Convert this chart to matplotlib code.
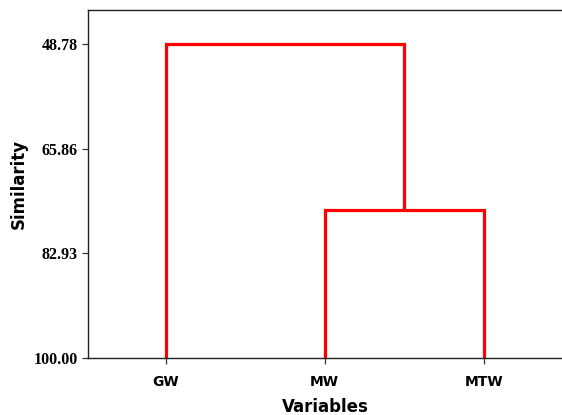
import matplotlib
matplotlib.use("Agg")
import matplotlib.pyplot as plt

variables = ["GW", "MW", "MTW"]
ytick_values = [48.78, 65.86, 82.93, 100.00]
merge_mw_mtw = 75.9
merge_all = 48.78
base = 100.0

fig = plt.figure(figsize=(5.62, 4.15), dpi=100)
W, H = 562, 415
ax = fig.add_axes([88 / W, 1 - 358 / H, (563 - 88) / W, (358 - 10.3) / H])

xs = [1, 2, 3]
red = dict(color="#ff0000", lw=2.3, solid_capstyle="butt", solid_joinstyle="miter")
# MW - MTW cluster
ax.plot([xs[1], xs[1], xs[2], xs[2]], [base, merge_mw_mtw, merge_mw_mtw, base], **red)
mid = (xs[1] + xs[2]) / 2
# GW - cluster
ax.plot([xs[0], xs[0], mid, mid], [base, merge_all, merge_all, merge_mw_mtw], **red)

ax.set_xlim(0.51, 3.5)
ax.set_ylim(base, 43.23)
ax.set_yticks(ytick_values)
ax.set_yticklabels([f"{v:.2f}" for v in ytick_values],
                   fontfamily="Liberation Serif", fontweight="bold", fontsize=11.5)
ax.set_xticks(xs)
ax.set_xticklabels(variables, fontfamily="DejaVu Sans", fontweight="bold", fontsize=10)
ax.tick_params(axis="both", length=4, width=0.9, color="#333333")
ax.tick_params(axis="x", pad=8)
for s in ax.spines.values():
    s.set_linewidth(1.0)
    s.set_color("#222222")

ax.set_ylabel("Similarity", fontfamily="DejaVu Sans", fontweight="bold", fontsize=12, labelpad=4)
ax.set_xlabel("Variables", fontfamily="DejaVu Sans", fontweight="bold", fontsize=12, labelpad=7)

fig.savefig("out.png", dpi=100)
